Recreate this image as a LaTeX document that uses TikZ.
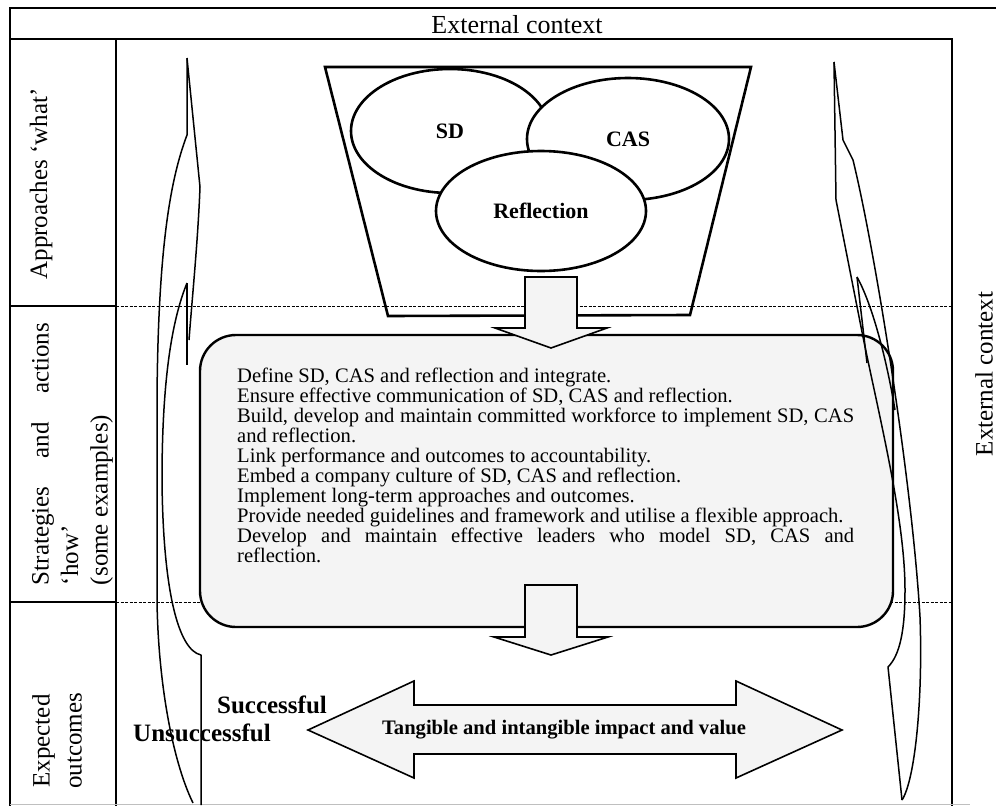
\documentclass[tikz,border=0pt]{standalone}
\usepackage{fontspec}
\setmainfont{Liberation Serif}
\usetikzlibrary{shapes.geometric}
\usetikzlibrary{positioning}

\tikzset{
  oval/.style={ellipse, draw, line width=2.6pt, fill=white, inner sep=0pt,
    font=\fontsize{22}{24}\selectfont\bfseries},
  dotfill/.style={fill=gray!9},
  blockarrow/.style={draw, line width=1.6pt, dotfill, line join=miter},
  divider/.style={line width=1pt, dash pattern=on 3pt off 1.5pt},
  blade/.style={line width=1.5pt, line join=round},
  rowlabel/.style={rotate=90, font=\fontsize{25}{30}\selectfont, inner sep=0pt},
  boldlabel/.style={font=\fontsize{25}{27}\selectfont\bfseries, inner sep=0pt},
}

\begin{document}
\begin{tikzpicture}[x=1pt,y=-1pt]
	\useasboundingbox (0,0) rectangle (996,806);
	% Frame
	\draw[line width=1.2pt] (996,8) -- (10,8) -- (10,806);
	\draw[line width=1.2pt] (10,39) -- (952,39) -- (952,806);
	\draw[line width=1.2pt] (116,39) -- (116,806);
	\draw[gray!50, line width=0.8pt] (10,804) -- (970,804);
	\foreach \y in {306,602} {
		\draw[line width=1.2pt] (10,\y) -- (116,\y);
		\draw[divider] (116,\y) -- (952,\y);
	}
	
	% Labels
	\node[font=\fontsize{26}{28}\selectfont, inner sep=0pt] (ctxtop) at (517,25) {External context};
	\node[rowlabel] (ctxside) at (984,374) {External context};
	\node[rowlabel] (what) at (41,184) {Approaches ‘what’};
	\node[rowlabel, text width=262pt, align=justify, font=\fontsize{25}{29.5}\selectfont] (how) at (72,454)
		{Strategies and actions\linebreak ‘how’\\(some examples)};
	\node[rowlabel, align=center, font=\fontsize{25}{32}\selectfont] (outcomes) at (57,741) {Expected\\outcomes};
	
	% Approaches
	\draw[line width=2.6pt, line join=miter] (325,67) -- (751,67) -- (690,315) -- (388,316) -- cycle;
	\node[oval, minimum width=198pt, minimum height=124pt] (sd) at (450,131) {SD};
	\node[oval, minimum width=202pt, minimum height=122pt] (cas) at (628,139) {CAS};
	\node[oval, minimum width=210pt, minimum height=120pt] (refl) at (541,211) {Reflection};
	
	% Strategies and actions
	\draw[line width=2.4pt, dotfill, rounded corners=36pt] (200,335) rectangle (893,627);
	\node[anchor=north west, text width=617pt, align=justify, inner sep=0pt,
		font=\fontsize{20.6}{20}\selectfont] (actions) at (237,368) {%
		Define SD, CAS and reflection and integrate.\\
		Ensure effective communication of SD, CAS and reflection.\\
		Build, develop and maintain committed workforce to implement SD, CAS\linebreak and reflection.\\
		Link performance and outcomes to accountability.\\
		Embed a company culture of SD, CAS and reflection.\\
		Implement long-term approaches and outcomes.\\
		Provide needed guidelines and framework and utilise a flexible approach.\\
		Develop and maintain effective leaders who model SD, CAS and\linebreak reflection.};
	
	% Arrows
	\draw[blockarrow] (525,277) -- (577,277) -- (577,328) -- (607,328) -- (551,348) -- (495,328) -- (525,328) -- cycle;
	\draw[blockarrow] (525,585) -- (577,585) -- (577,637) -- (608,637) -- (551,655) -- (494,637) -- (525,637) -- cycle;
	\draw[blockarrow] (308,730) -- (414,681) -- (414,705) -- (736,705) -- (736,681) -- (842,730)
		-- (736,778) -- (736,754) -- (414,754) -- (414,778) -- cycle;
	
	% Outcomes
	\node[font=\fontsize{20.6}{22}\selectfont\bfseries, inner sep=0pt] (impact) at (564,730) {Tangible and intangible impact and value};
	\node[boldlabel] (succ) at (272,705) {Successful};
	\node[boldlabel] (unsucc) at (202,733) {Unsuccessful};
	
	% Left blades
	\draw[blade] (187,58) -- (187,135) .. controls (170,180) and (158,250) .. (157,400) -- (157,600)
		.. controls (158,680) and (172,760) .. (193,803);
	\draw[blade] (187,58) -- (200,187) .. controls (198,240) and (192,300) .. (189,340);
	\draw[blade] (187,283) -- (187,365);
	\draw[blade] (187,283) .. controls (174,315) and (162,370) .. (162,480)
		.. controls (163,590) and (178,650) .. (201,655) -- (201,805);
	
	% Right blades
	\draw[blade] (834,62) -- (836,200) -- (863,337) .. controls (880,420) and (905,520) .. (905,590)
		.. controls (905,630) and (900,655) .. (888,667) -- (902,800);
	\draw[blade] (834,62) -- (843,140) -- (853,160) .. controls (875,250) and (912,480) .. (920,617)
		.. controls (923,700) and (915,780) .. (902,800);
	\draw[blade] (857,277) -- (867,363);
	\draw[blade] (857,277) .. controls (870,300) and (885,350) .. (895,410);
\end{tikzpicture}
\end{document}
